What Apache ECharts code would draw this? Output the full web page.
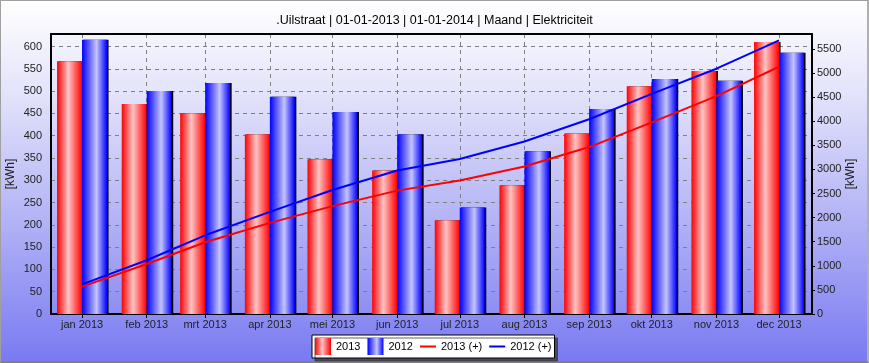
<!DOCTYPE html>
<html>
<head>
<meta charset="utf-8">
<script src="https://cdn.jsdelivr.net/npm/echarts@6/dist/echarts.min.js"></script>
<style>
html,body{margin:0;padding:0;}
#wrap{width:869px;height:363px;box-sizing:border-box;border:1px solid #a0a0a0;border-bottom:2px solid #808080;border-right:2px solid #b0b0b0;
background:linear-gradient(to bottom,#ffffff 0%,#e4e4fb 25%,#b4b4f6 60%,#7a7af2 100%);}
#chart{width:869px;height:363px;position:absolute;left:0;top:0;}
</style>
</head>
<body>
<div id="wrap"></div>
<div id="chart"></div>
<script>
const monthDates = ['2013-01-01','2013-02-01','2013-03-01','2013-04-01','2013-05-01','2013-06-01','2013-07-01','2013-08-01','2013-09-01','2013-10-01','2013-11-01','2013-12-01'];
const monthLabels = ['jan 2013','feb 2013','mrt 2013','apr 2013','mei 2013','jun 2013','jul 2013','aug 2013','sep 2013','okt 2013','nov 2013','dec 2013'];
const bars2013 = [567, 471, 450, 403, 347, 322, 210, 289, 405, 511, 545, 610];
const bars2012 = [615, 500, 518, 487, 453, 403, 239, 365, 460, 527, 523, 586];
const cum2013 = [567, 1038, 1488, 1891, 2238, 2560, 2770, 3059, 3464, 3975, 4520, 5130];
const cum2012 = [615, 1115, 1633, 2120, 2573, 2976, 3215, 3580, 4040, 4567, 5090, 5676];
const leftTicks = [0,50,100,150,200,250,300,350,400,450,500,550,600];
const rightTicks = [0,500,1000,1500,2000,2500,3000,3500,4000,4500,5000,5500];
const titleText = '.Uilstraat | 01-01-2013 | 01-01-2014 | Maand | Elektriciteit';

const ts = monthDates.map(d => new Date(d + 'T00:00:00Z').getTime());
const labelFor = {};
ts.forEach((t, i) => { labelFor[t] = monthLabels[i]; });
const pair = (arr) => arr.map((v, i) => [ts[i], v]);

function redGrad(){ return new echarts.graphic.LinearGradient(0,0,1,0,[
  {offset:0,color:'#ff0000'},{offset:0.45,color:'#ffc4c4'},{offset:1,color:'#ff0000'}]); }
function blueGrad(){ return new echarts.graphic.LinearGradient(0,0,1,0,[
  {offset:0,color:'#0000ff'},{offset:0.58,color:'#c4c4ff'},{offset:1,color:'#0000ff'}]); }

const BAR_W = 25;
function barRenderer(offset, gradFn) {
  return function (params, api) {
    const top = api.coord([api.value(0), api.value(1)]);
    const base = api.coord([api.value(0), 0]);
    return {
      type: 'group',
      children: [{
        type: 'rect',
        shape: {x: top[0] + offset + 1.5, y: top[1], width: BAR_W, height: base[1] - top[1]},
        style: {fill: '#000'}
      }, {
        type: 'rect',
        shape: {x: top[0] + offset, y: top[1], width: BAR_W, height: base[1] - top[1]},
        style: {fill: gradFn()}
      }]
    };
  };
}

const xMin = new Date('2012-12-17T03:00:00Z').getTime();
const xMax = new Date('2013-12-16T19:00:00Z').getTime();
const lineIcon = 'path://M0,0L0.01,0M0,7.5L17,7.5L17,9.5L0,9.5ZM17,17L17.01,17';
const font = 'Liberation Sans';
const chart = echarts.init(document.getElementById('chart'));
chart.setOption({
  backgroundColor: 'transparent',
  animation: false,
  textStyle: {fontFamily: font},
  title: {
    text: titleText, left: 'center', top: 9,
    textStyle: {fontSize: 12.5, fontWeight: 'normal', color: '#000', fontFamily: font}
  },
  grid: {left: 51, right: 57, top: 34, bottom: 49, show: false, containLabel: false, outerBoundsMode: 'none'},
  legend: {
    left: 312, top: 335, height: 23,
    padding: [3, 3, 3, 3],
    itemGap: 7, itemWidth: 16, itemHeight: 17,
    backgroundColor: '#ffffff', borderColor: '#000', borderWidth: 1,
    shadowColor: 'rgba(60,60,60,0.8)', shadowBlur: 0, shadowOffsetX: 3, shadowOffsetY: 3,
    textStyle: {fontSize: 11, color: '#000', fontFamily: font},
    data: [
      {name: '2013', icon: 'rect', itemStyle: {color: redGrad()}},
      {name: '2012', icon: 'rect', itemStyle: {color: blueGrad()}},
      {name: '2013 (+)', icon: lineIcon, itemStyle: {color: '#ff0000', borderWidth: 0}},
      {name: '2012 (+)', icon: lineIcon, itemStyle: {color: '#0000ff', borderWidth: 0}}
    ]
  },
  xAxis: [{
    type: 'value', min: xMin, max: xMax, position: 'bottom',
    axisLine: {onZero: false, lineStyle: {color: '#000', width: 2}},
    axisTick: {show: true, length: 4, lineStyle: {color: '#000', width: 1}, customValues: ts},
    axisLabel: {customValues: ts, formatter: (v) => labelFor[v] || '', fontSize: 11, color: '#222', margin: 5, fontFamily: font},
    splitLine: {show: true, lineStyle: {color: '#808080', type: [4, 4], width: 1}}
  }, {
    type: 'value', position: 'top', z: 5, min: xMin, max: xMax,
    axisLine: {show: true, onZero: false, lineStyle: {color: '#000', width: 2}},
    axisTick: {show: false}, axisLabel: {show: false}, splitLine: {show: false}
  }],
  yAxis: [{
    type: 'value', min: 0, max: 628, interval: 50, position: 'left',
    name: '[kWh]', nameLocation: 'middle', nameGap: 34, nameRotate: 90, nameMoveOverlap: false,
    nameTextStyle: {fontSize: 12, color: '#222', fontFamily: font},
    axisLine: {show: true, onZero: false, lineStyle: {color: '#000', width: 2}},
    axisTick: {show: false},
    axisLabel: {fontSize: 11, color: '#222', margin: 9, fontFamily: font, showMaxLabel: false,
      formatter: (v) => leftTicks.indexOf(v) >= 0 ? String(v) : ''},
    splitLine: {show: true, lineStyle: {color: '#808080', type: [4, 4], width: 1}}
  }, {
    type: 'value', min: 0, max: 5810, interval: 500, position: 'right', z: 5,
    name: '[kWh]', nameLocation: 'middle', nameGap: 33, nameRotate: 90, nameMoveOverlap: false,
    nameTextStyle: {fontSize: 12, color: '#222', fontFamily: font},
    axisLine: {show: true, onZero: false, lineStyle: {color: '#000', width: 2}},
    axisTick: {show: true, length: 3, inside: false, lineStyle: {color: '#000'}},
    axisLabel: {fontSize: 11, color: '#222', margin: 5, fontFamily: font, showMaxLabel: false,
      formatter: (v) => rightTicks.indexOf(v) >= 0 ? String(v) : ''},
    splitLine: {show: false}
  }],
  series: [{
    name: '2013', type: 'custom', xAxisIndex: 0, yAxisIndex: 0, z: 2,
    itemStyle: {color: redGrad()},
    renderItem: barRenderer(-BAR_W, redGrad),
    encode: {x: 0, y: 1},
    data: pair(bars2013)
  }, {
    name: '2012', type: 'custom', xAxisIndex: 0, yAxisIndex: 0, z: 2,
    itemStyle: {color: blueGrad()},
    renderItem: barRenderer(0, blueGrad),
    encode: {x: 0, y: 1},
    data: pair(bars2012)
  }, {
    name: '2013 (+)', type: 'line', xAxisIndex: 0, yAxisIndex: 1, symbol: 'none', z: 5,
    lineStyle: {color: '#ff0000', width: 2}, itemStyle: {color: '#ff0000'},
    data: pair(cum2013)
  }, {
    name: '2012 (+)', type: 'line', xAxisIndex: 0, yAxisIndex: 1, symbol: 'none', z: 5,
    lineStyle: {color: '#0000ff', width: 2}, itemStyle: {color: '#0000ff'},
    data: pair(cum2012)
  }]
});
</script>
</body>
</html>
